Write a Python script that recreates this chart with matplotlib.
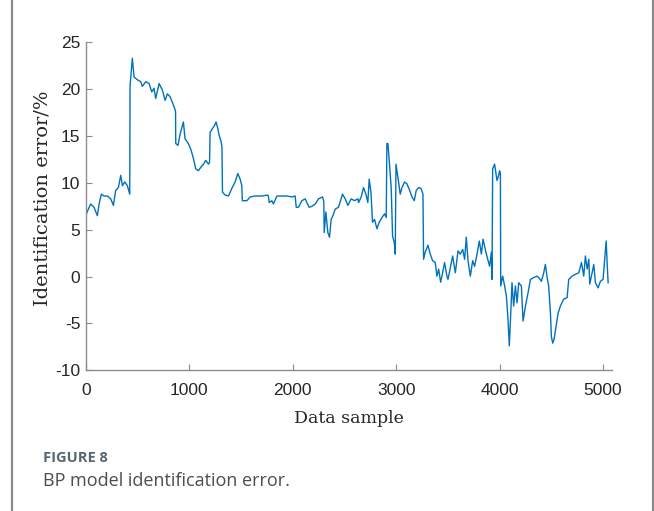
import matplotlib
matplotlib.use('Agg')
import matplotlib.pyplot as plt
from matplotlib.lines import Line2D

plt.rcParams['font.family'] = ['Liberation Sans', 'DejaVu Sans']
plt.rcParams['axes.unicode_minus'] = False

# values
sample_idx = [
    0, 15, 45, 77, 110, 126, 148, 174, 206, 239, 265, 287, 313, 336, 352, 374, 400, 423,
    426, 432, 448, 465, 497, 529, 545, 578, 610, 636, 658, 674, 707, 739, 765, 787, 813,
    835, 859, 866, 868, 890, 910, 920, 942, 958, 990, 1016, 1039, 1061, 1087, 1113, 1136,
    1158, 1184, 1195, 1200, 1223, 1242, 1258, 1275, 1287, 1307, 1315, 1320, 1346, 1378,
    1410, 1442, 1468, 1491, 1507, 1512, 1556, 1588, 1636, 1700, 1759, 1765, 1772, 1797,
    1813, 1846, 1894, 1943, 1991, 2023, 2033, 2055, 2088, 2120, 2136, 2159, 2185, 2217,
    2249, 2288, 2300, 2304, 2320, 2339, 2355, 2371, 2388, 2410, 2442, 2481, 2507, 2533,
    2565, 2597, 2630, 2636, 2662, 2684, 2707, 2726, 2739, 2756, 2771, 2791, 2814, 2836,
    2862, 2888, 2904, 2910, 2920, 2936, 2952, 2965, 2982, 2991, 2998, 3010, 3023, 3039,
    3056, 3081, 3104, 3130, 3153, 3175, 3194, 3217, 3240, 3259, 3265, 3281, 3307, 3330,
    3352, 3378, 3394, 3411, 3430, 3449, 3468, 3491, 3501, 3523, 3546, 3572, 3598, 3620,
    3643, 3662, 3678, 3695, 3717, 3740, 3759, 3782, 3804, 3824, 3840, 3862, 3885, 3904,
    3920, 3927, 3933, 3952, 3975, 3991, 4000, 4008, 4011, 4030, 4049, 4066, 4082, 4094,
    4107, 4120, 4136, 4153, 4169, 4185, 4211, 4227, 4250, 4276, 4298, 4330, 4363, 4378,
    4405, 4427, 4443, 4460, 4475, 4492, 4501, 4514, 4527, 4546, 4566, 4588, 4620, 4653,
    4669, 4701, 4733, 4766, 4792, 4814, 4830, 4847, 4863, 4872, 4895, 4911, 4927, 4953,
    4975, 5001, 5017, 5031, 5043, 5050,
]
error_pct = [
    6.6, 7.0, 7.75, 7.4, 6.5, 7.7, 8.8, 8.6, 8.6, 8.3, 7.6, 9.2, 9.5, 10.8, 9.7, 10.1, 9.7, 8.8,
    20.3, 21.1, 23.3, 21.3, 21.0, 20.8, 20.3, 20.8, 20.6, 19.7, 20.1, 19.0, 20.6, 19.9, 18.8, 19.5, 19.2,
    18.6, 17.9, 17.6, 14.2, 14.0, 15.2, 15.6, 16.5, 14.7, 14.2, 13.5, 12.6, 11.5, 11.3, 11.7, 12.0,
    12.4, 12.0, 12.2, 15.4, 15.8, 16.1, 16.5, 15.8, 15.1, 14.4, 13.8, 9.0, 8.7, 8.6,
    9.4, 10.1, 11.0, 10.4, 9.7, 8.1, 8.1, 8.5, 8.6, 8.6, 8.7, 8.5, 7.9, 8.1,
    7.75, 8.6, 8.6, 8.6, 8.5, 8.6, 7.4, 7.4, 8.1, 8.3, 7.9, 7.4, 7.5, 7.75,
    8.3, 8.5, 8.0, 4.7, 6.9, 4.7, 4.2, 6.1, 6.5, 7.2, 7.4, 8.8, 8.3, 7.6,
    8.3, 8.1, 8.3, 7.9, 8.5, 9.5, 8.8, 7.9, 10.4, 9.0, 5.8, 6.1, 5.1, 5.8,
    6.3, 6.7, 6.3, 14.2, 14.2, 11.9, 9.4, 4.35, 3.6, 2.4, 12.0, 11.1, 10.1, 8.8,
    9.5, 10.1, 9.9, 9.2, 8.5, 8.1, 9.2, 9.5, 9.4, 8.8, 1.85, 2.6, 3.35, 2.4,
    1.7, 1.5, 0.05, 0.8, -0.6, 0.4, 1.5, 0.05, -0.3, 0.95, 2.2, 0.4, 2.75, 2.4,
    2.9, 1.85, 4.2, 1.7, 0.05, 1.7, 1.1, 2.4, 3.8, 2.4, 4.0, 2.9, 1.85, 1.1,
    2.6, -0.3, 11.5, 12.0, 10.25, 10.8, 11.3, 11.0, -1.0, 0.05, -1.0, -2.1, -4.6, -7.4,
    -4.2, -0.65, -3.15, -1.0, -2.8, -0.65, -1.0, -4.75, -3.15, -1.7, -0.3, -0.1, 0.05, -0.1,
    -0.5, 0.4, 1.3, -0.1, -1.0, -3.9, -6.4, -7.1, -6.7, -5.3, -3.9, -3.15, -2.4, -2.25,
    -0.3, 0.05, 0.25, 0.4, 1.5, 0.05, 2.2, 0.8, 1.85, -0.8, 0.4, 1.3, -0.65, -1.2,
    -0.5, -0.3, 1.85, 3.8, 0.8, -0.65,
]
x_ticks = [0, 1000, 2000, 3000, 4000, 5000]
y_ticks = [-10, -5, 0, 5, 10, 15, 20, 25]

fig = plt.figure(figsize=(6.54, 5.11), dpi=100)
ax = fig.add_axes([0.1315, 0.2753, 0.8047, 0.6419])

ax.plot(sample_idx, error_pct, color='#0072BD', linewidth=1.0)

ax.set_xlim(0, 5090)
ax.set_ylim(-10, 25)
ax.set_xticks(x_ticks)
ax.set_yticks(y_ticks)

# matlab-like axes: only left/bottom, ticks pointing in
for side in ['top', 'right']:
    ax.spines[side].set_visible(False)
for side in ['left', 'bottom']:
    ax.spines[side].set_color('#8c8c8c')
    ax.spines[side].set_linewidth(1.0)
ax.tick_params(direction='in', length=4, width=0.8, color='#8c8c8c',
               labelsize=12.5, labelcolor='#262626')
ax.tick_params(axis='x', pad=9)
ax.tick_params(axis='y', pad=4)

ax.set_xlabel('Data sample', fontfamily='DejaVu Serif', fontsize=12.5,
              color='#262626', labelpad=8.5)
ax.set_ylabel('Identification error/%', fontfamily='DejaVu Serif', fontsize=14,
              color='#262626')
ax.yaxis.set_label_coords(-0.066, 0.525)

# caption below the chart
fig.text(43 / 654, 1 - 458 / 511, 'FIGURE 8', fontfamily='Open Sans', fontweight='bold',
         fontsize=10.5, color='#56676f', va='center', ha='left')
fig.text(43 / 654, 1 - 481 / 511, 'BP model identification error.', fontfamily='Open Sans',
         fontsize=13, color='#4d4d4d', va='center', ha='left')

# page frame lines left and right
fig.add_artist(Line2D([11.5 / 654, 11.5 / 654], [0, 1], color='#8a8a8a', linewidth=1.6))
fig.add_artist(Line2D([652.5 / 654, 652.5 / 654], [0, 1], color='#8a8a8a', linewidth=1.6))

fig.savefig('out.png', dpi=100)
